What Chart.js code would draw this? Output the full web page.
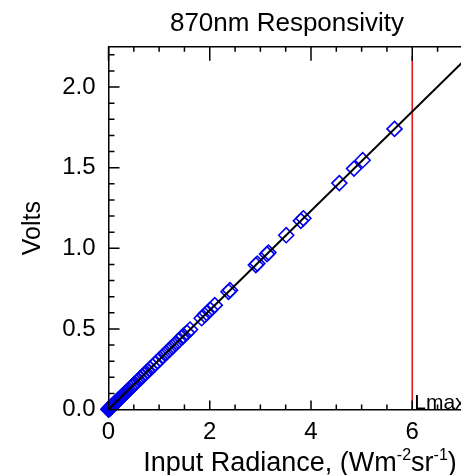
<!DOCTYPE html>
<html><head><meta charset="utf-8">
<script src="https://cdn.jsdelivr.net/npm/chart.js@4/dist/chart.umd.min.js"></script>
<style>
html,body{margin:0;padding:0;overflow:hidden;background:#fff;width:461px;height:475px}
#wrap{width:574px;height:475px;position:relative}
</style>
</head><body><div id="wrap"><canvas id="c" width="574" height="475"></canvas></div>
<script>
const chartTitle = '870nm Responsivity';
const yAxisTitle = 'Volts';
const xAxisTitleParts = [['Input Radiance, (Wm', false], ['-2', true], ['sr', false], ['-1', true], [')', false]];
const xTickValues = [0, 2, 4, 6, 8];
const yTickValues = [0, 0.5, 1.0, 1.5, 2.0];
const radiance = [0.000, 0.005, 0.010, 0.015, 0.020, 0.030, 0.040, 0.050, 0.060, 0.070, 0.085, 0.100, 0.115, 0.130, 0.145, 0.160, 0.180, 0.200, 0.220, 0.240, 0.260, 0.280, 0.300, 0.325, 0.350, 0.375, 0.400, 0.430, 0.460, 0.490, 0.520, 0.550, 0.580, 0.620, 0.660, 0.700, 0.740, 0.780, 0.820, 0.870, 0.920, 0.970, 1.020, 1.080, 1.140, 1.200, 1.260, 1.320, 1.380, 1.440, 1.480, 1.550, 1.610, 1.840, 1.900, 1.940, 2.010, 2.100, 2.370, 2.400, 2.910, 2.940, 3.130, 3.160, 3.510, 3.800, 3.850, 4.560, 4.850, 5.020, 5.650];
const volts = [0.000, 0.002, 0.003, 0.005, 0.006, 0.009, 0.012, 0.016, 0.018, 0.022, 0.026, 0.031, 0.035, 0.040, 0.045, 0.049, 0.055, 0.062, 0.068, 0.074, 0.080, 0.086, 0.092, 0.100, 0.108, 0.115, 0.123, 0.132, 0.142, 0.151, 0.160, 0.169, 0.179, 0.191, 0.203, 0.216, 0.228, 0.240, 0.252, 0.268, 0.283, 0.299, 0.314, 0.333, 0.351, 0.370, 0.388, 0.407, 0.425, 0.444, 0.458, 0.477, 0.496, 0.566, 0.585, 0.598, 0.619, 0.647, 0.730, 0.740, 0.896, 0.905, 0.964, 0.973, 1.081, 1.170, 1.186, 1.404, 1.494, 1.546, 1.740];
const fitX = [0, 8];
const fitY = [0, 2.464];
const lmaxX = [6, 6];
const lmaxY = [0, 2.19];
const lmaxLabel = 'Lmax';

const FONT = '"Liberation Sans", Arial, Helvetica, sans-serif';

const pts = radiance.map((x, i) => ({x: x, y: volts[i]}));
const fitPts = fitX.map((x, i) => ({x: x, y: fitY[i]}));
const lmaxPts = lmaxX.map((x, i) => ({x: x, y: lmaxY[i]}));

const decorPlugin = {
  id: 'decor',
  afterDraw(chart) {
    const ctx = chart.ctx;
    const xs = chart.scales.x, ys = chart.scales.y;
    const a = chart.chartArea;
    ctx.save();
    ctx.strokeStyle = '#000';
    ctx.lineWidth = 1.5;
    ctx.beginPath();
    ctx.moveTo(a.left, a.top); ctx.lineTo(a.right, a.top);
    ctx.stroke();
    for (let v = 0; v <= xs.max + 1e-9; v += 0.5) {
      const px = xs.getPixelForValue(v);
      const major = Math.abs(v / 2 - Math.round(v / 2)) < 1e-6;
      ctx.beginPath();
      ctx.moveTo(px, a.bottom); ctx.lineTo(px, a.bottom - (major ? 9 : 5));
      ctx.moveTo(px, a.top); ctx.lineTo(px, a.top + (major ? 14 : 5));
      ctx.stroke();
    }
    for (let k = 0; k <= 22; k++) {
      const v = k / 10;
      const py = ys.getPixelForValue(v);
      const major = k % 5 === 0;
      ctx.beginPath();
      ctx.moveTo(a.left, py); ctx.lineTo(a.left + (major ? 11 : 6), py);
      ctx.moveTo(a.right, py); ctx.lineTo(a.right - (major ? 11 : 6), py);
      ctx.stroke();
    }
    ctx.fillStyle = '#000';
    ctx.font = '21px ' + FONT;
    ctx.textAlign = 'left';
    ctx.textBaseline = 'alphabetic';
    ctx.fillText(lmaxLabel, xs.getPixelForValue(lmaxX[0]) + 2, a.bottom - 1);
    const base = 27, sup = 16;
    let total = 0;
    for (const [t, s] of xAxisTitleParts) {
      ctx.font = (s ? sup : base) + 'px ' + FONT;
      total += ctx.measureText(t).width;
    }
    let x = 300 - total / 2;
    const yb = 471;
    for (const [t, s] of xAxisTitleParts) {
      ctx.font = (s ? sup : base) + 'px ' + FONT;
      ctx.fillText(t, x, s ? yb - 11 : yb);
      x += ctx.measureText(t).width;
    }
    ctx.restore();
  }
};

new Chart(document.getElementById('c'), {
  type: 'scatter',
  data: {
    datasets: [
      {
        label: 'Fit', type: 'line', data: fitPts, showLine: true,
        borderColor: '#000', borderWidth: 2, pointRadius: 0, fill: false, order: 0
      },
      {
        label: 'Lmax', type: 'line', data: lmaxPts, showLine: true,
        borderColor: '#e41a1c', borderWidth: 1.6, pointRadius: 0, fill: false, order: 0
      },
      {
        label: 'Measured', data: pts, pointStyle: 'rectRot', pointRadius: 7.5,
        pointBorderColor: '#0000f0', pointBackgroundColor: 'rgba(0,0,0,0)',
        pointBorderWidth: 1.6, clip: false, order: 1
      }
    ]
  },
  options: {
    responsive: false, animation: false, devicePixelRatio: 1,
    layout: {padding: 0},
    plugins: {
      legend: {display: false}, tooltip: {enabled: false},
      title: {
        display: true, text: chartTitle, color: '#000',
        font: {family: FONT, size: 26, weight: 'normal'},
        padding: {top: 8.5, bottom: 7}
      }
    },
    scales: {
      x: {
        type: 'linear', position: 'bottom', min: 0, max: 8,
        grid: {display: false, drawTicks: false, tickLength: 0}, border: {display: true, color: '#000', width: 1.5},
        ticks: {color: '#000', font: {family: FONT, size: 24}, padding: 8, maxRotation: 0, autoSkip: false},
        afterBuildTicks: s => { s.ticks = xTickValues.map(v => ({value: v})); },
        afterFit: s => { s.height = 65.5; }
      },
      y: {
        type: 'linear', position: 'left', min: 0, max: 2.25,
        grid: {display: false, drawTicks: false, tickLength: 0}, border: {display: true, color: '#000', width: 1.5},
        ticks: {color: '#000', font: {family: FONT, size: 24}, padding: 13, callback: v => Number(v).toFixed(1)},
        afterBuildTicks: s => { s.ticks = yTickValues.map(v => ({value: v})); },
        title: {display: true, text: yAxisTitle, color: '#000', font: {family: FONT, size: 25}, padding: {top: 18.6}},
        afterFit: s => { s.width = 108.5; }
      },
      y2: {
        type: 'linear', position: 'right', min: 0, max: 2.25,
        grid: {display: false, drawTicks: false, tickLength: 0}, border: {display: true, color: '#000', width: 1.5},
        ticks: {display: false},
        afterFit: s => { s.width = 60.5; }
      }
    }
  },
  plugins: [decorPlugin]
});
</script>
</body></html>
